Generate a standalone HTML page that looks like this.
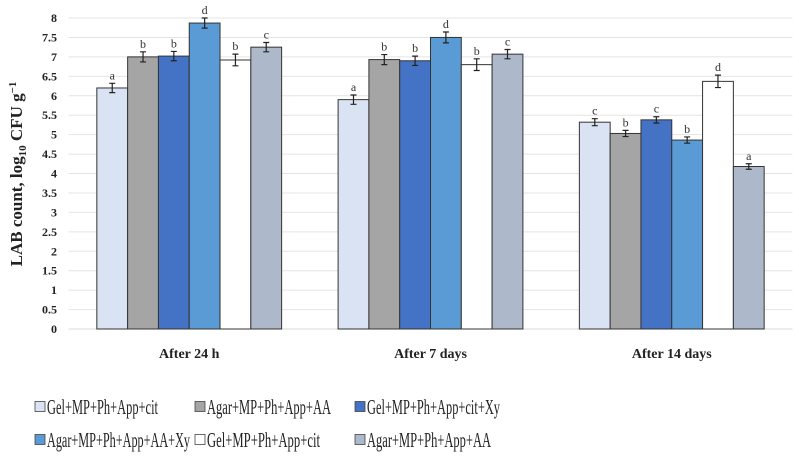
<!DOCTYPE html>
<html><head><meta charset="utf-8"><style>
body{margin:0;background:#fff;}
svg{display:block;font-family:"Liberation Serif",serif;}
</style></head><body>
<svg id="chart" width="799" height="457"></svg>
<script>
const categories=["After 24 h","After 7 days","After 14 days"];
const seriesNames=["Gel+MP+Ph+App+cit","Agar+MP+Ph+App+AA","Gel+MP+Ph+App+cit+Xy","Agar+MP+Ph+App+AA+Xy","Gel+MP+Ph+App+cit","Agar+MP+Ph+App+AA"];
const s1=[6.2,5.9,5.32];
const s2=[7.0,6.93,5.03];
const s3=[7.02,6.9,5.38];
const s4=[7.87,7.5,4.86];
const s5=[6.92,6.8,6.37];
const s6=[7.25,7.07,4.18];
const e1=[0.12,0.12,0.09];
const e2=[0.13,0.13,0.08];
const e3=[0.12,0.12,0.08];
const e4=[0.13,0.14,0.08];
const e5=[0.15,0.15,0.16];
const e6=[0.12,0.12,0.07];
const l1=["a","a","c"],l2=["b","b","b"],l3=["b","b","c"],l4=["d","d","b"],l5=["b","b","d"],l6=["c","c","a"];
const yTicks=[0,0.5,1,1.5,2,2.5,3,3.5,4,4.5,5,5.5,6,6.5,7,7.5,8];
const colors=["#dae3f3","#a5a5a5","#4472c4","#5b9bd5","#ffffff","#adb9ca"];
const series=[s1,s2,s3,s4,s5,s6],errs=[e1,e2,e3,e4,e5,e6],lets=[l1,l2,l3,l4,l5,l6];
const NS="http://www.w3.org/2000/svg",svg=document.getElementById('chart');
const X0=68.6,X1=792.4,Y0=329,Y8=18;
const y=v=>Y0-(v/8)*(Y0-Y8);
const step=(X1-X0)/categories.length,bw=30.8;
function mk(t,a,p){const e=document.createElementNS(NS,t);for(const k in a)e.setAttribute(k,a[k]);(p||svg).appendChild(e);return e;}
yTicks.forEach(v=>{
 const g=mk('line',{x1:X0,x2:X1,y1:y(v),y2:y(v),stroke:v===0?'#d9d9d9':'#e4e4e4','stroke-width':1});
 
 
 const t=mk('text',{x:57,y:y(v)+4,'text-anchor':'end','font-size':12,'font-weight':'bold',fill:'#222'});
 t.textContent=v;
 
 
});
categories.forEach((c,i)=>{
 const cx=X0+step*(i+0.5),start=cx-bw*3;
 series.forEach((s,j)=>{
  const bx=start+j*bw,top=y(s[i]);
  const r=mk('rect',{x:bx,y:top,width:bw,height:Y0-top,fill:colors[j],stroke:'#333','stroke-width':1});
  
  
  const mx=bx+bw/2,e=errs[j][i];
  const eb=mk('path',{d:`M${mx},${y(s[i]+e)}V${y(s[i]-e)}M${mx-3},${y(s[i]+e)}H${mx+3}M${mx-3},${y(s[i]-e)}H${mx+3}`,stroke:'#222','stroke-width':1.2,fill:'none'});
  
  
  const lt=mk('text',{x:mx,y:y(s[i]+e)-4,'text-anchor':'middle','font-size':12,fill:'#333'});
  lt.textContent=lets[j][i];
  
  
 });
 const ct=mk('text',{x:cx,y:358,'text-anchor':'middle','font-size':14,'font-weight':'bold',fill:'#222'});
 ct.textContent=c;
 
 
});
const yt=mk('text',{transform:'translate(22,174) rotate(-90)','text-anchor':'middle','font-size':17,'font-weight':'bold',fill:'#222'});
yt.innerHTML='LAB count, log<tspan font-size="11" dy="4">10</tspan><tspan dy="-4"> CFU g</tspan><tspan font-size="11" dy="-6">−1</tspan>';


const lx=[35,195,355],ly=[407,440];
const lw=[111,124,133,143,113,124];
seriesNames.forEach((n,j)=>{
 const x=lx[j%3],yy=ly[Math.floor(j/3)];
 const sq=mk('rect',{x:x,y:yy-5.5,width:10,height:10,fill:colors[j],stroke:'#444','stroke-width':0.8});
 
 
 const t=mk('text',{x:x+12,y:yy+7,'font-size':21,fill:'#222',textLength:lw[j],lengthAdjust:'spacingAndGlyphs'});
 t.textContent=n;
 
 
});
</script>
</body></html>
